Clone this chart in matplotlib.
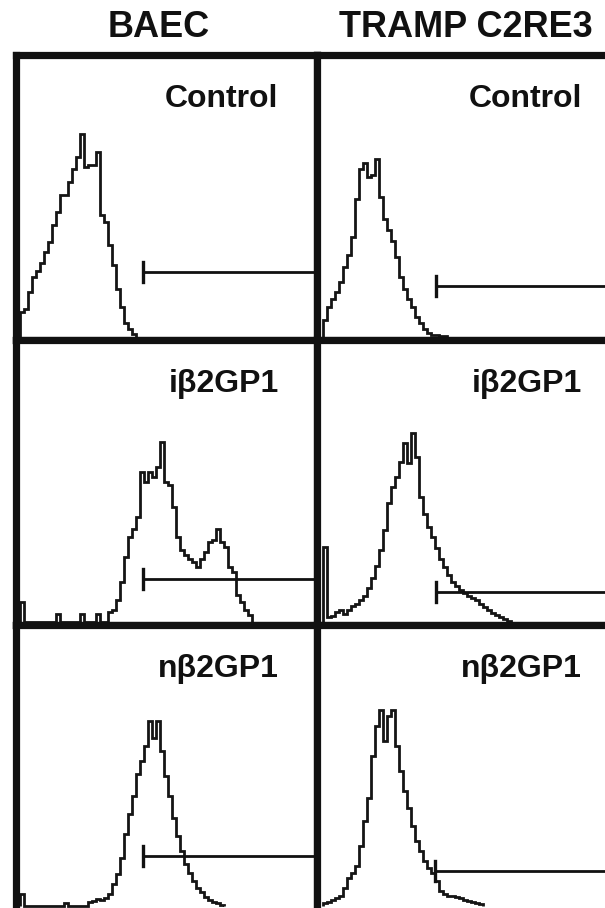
import numpy as np
import matplotlib
matplotlib.use("Agg")
import matplotlib.pyplot as plt

plt.rcParams['font.family'] = ['Liberation Sans', 'DejaVu Sans']

# --- Data: flow cytometry histograms (counts per 4-channel bin) ---
bin_width = 4
columns = ["BAEC", "TRAMP C2RE3"]
treatments = ["Control", "i\u03b22GP1", "n\u03b22GP1"]

baec_control = [25, 28, 45, 60, 66, 74, 85, 95, 112, 125, 142, 142, 155, 168, 180,
                203, 170, 172, 172, 185, 122, 115, 92, 72, 48, 30, 14, 8, 3]
tramp_control = [17, 30, 38, 45, 55, 70, 82, 100, 138, 168, 174, 160, 162, 178, 140,
                 118, 107, 96, 80, 60, 48, 38, 30, 20, 14, 8, 4, 2, 2, 1, 1]
baec_i = [20, 0, 0, 0, 0, 0, 0, 0, 0, 8, 0, 0, 0, 0, 0, 8, 0, 0, 0, 8, 0, 0,
          10, 12, 22, 40, 65, 85, 93, 105, 150, 140, 150, 145, 155, 180, 140, 137,
          115, 85, 72, 67, 63, 60, 55, 63, 70, 80, 82, 93, 80, 75, 55, 50, 27, 20, 12, 7]
tramp_i = [75, 5, 6, 10, 12, 8, 12, 16, 18, 22, 26, 34, 44, 56, 72, 92, 119, 135,
           145, 160, 179, 159, 189, 165, 125, 108, 95, 85, 74, 63, 55, 47, 40, 36,
           32, 29, 26, 24, 22, 18, 15, 12, 9, 7, 5, 3, 1]
baec_n = [12, 0, 0, 0, 0, 0, 0, 0, 0, 0, 0, 3, 0, 0, 0, 0, 0, 4, 5, 7, 6, 8, 12,
          22, 32, 48, 72, 92, 110, 132, 145, 160, 185, 168, 185, 155, 130, 110, 88,
          70, 55, 42, 33, 25, 18, 14, 9, 6, 4, 3, 1]
tramp_n = [3, 4, 6, 8, 10, 18, 28, 33, 40, 60, 85, 108, 150, 180, 196, 165, 190,
           196, 160, 135, 115, 98, 80, 65, 55, 45, 38, 33, 25, 15, 12, 10, 10, 9,
           8, 6, 5, 4, 3, 2]

histograms = [[baec_control, tramp_control],
              [baec_i, tramp_i],
              [baec_n, tramp_n]]

# gate marker: start channel and level for each panel
gate_start = [[123, 113], [123, 113], [123, 112]]
gate_level = [[65, 51], [43, 30], [50, 35]]

# --- Layout (pixels) ---
W, H = 605, 908
fig = plt.figure(figsize=(W / 100, H / 100), dpi=100)

col_edges = [16, 317, 618]
row_edges = [55, 340, 625, 910]
x_offset = [3.5, 6]  # inner left edge of each column in data units

for r in range(3):
    for c in range(2):
        x0, x1 = col_edges[c], col_edges[c + 1]
        y0, y1 = row_edges[r], row_edges[r + 1]
        ax = fig.add_axes([x0 / W, 1 - y1 / H, (x1 - x0) / W, (y1 - y0) / H])
        ax.set_xlim(-x_offset[c], x1 - x0 - x_offset[c])
        ax.set_ylim(-3.5, y1 - y0 - 3.5)
        ax.set_xticks([])
        ax.set_yticks([])
        for sp in ax.spines.values():
            sp.set_linewidth(5.2)
            sp.set_color('#111111')

        counts = histograms[r][c]
        edges = np.arange(len(counts) + 1) * bin_width
        ax.stairs(counts, edges, color='#151515', linewidth=2.0, baseline=0)

        # gate marker
        gx, gy = gate_start[r][c], gate_level[r][c]
        ax.plot([gx, x1 - x0], [gy, gy], color='#111111', linewidth=2.0)
        ax.plot([gx, gx], [gy - 10, gy + 10], color='#111111', linewidth=2.4)

        # treatment label
        ax.text(259, (y1 - y0 - 3.5) - 52, treatments[r], ha='right', va='baseline',
                fontsize=23, fontweight='bold', color='#111111')

# column titles
title_x = [158.5, 466]
for c in range(2):
    fig.text(title_x[c] / W, 1 - 37 / H, columns[c], ha='center', va='baseline',
             fontsize=26, fontweight='bold', color='#111111')

fig.savefig("out.png", dpi=100)
